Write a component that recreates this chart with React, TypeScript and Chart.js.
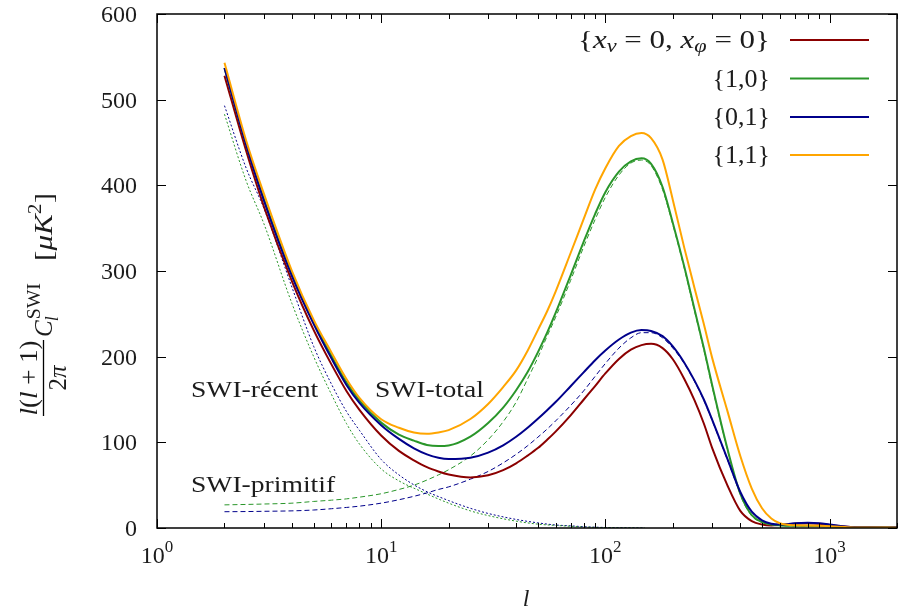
import React, { useEffect, useRef } from 'react';
import { Chart, registerables } from 'chart.js';
Chart.register(...registerables);

// multipole values
const ELL = [2, 2.5, 3, 4, 5, 6, 7, 8, 10, 12, 14, 16, 18, 20, 25, 30, 35, 40, 45, 50, 55, 60, 70, 80, 90, 100, 115, 130, 145, 160, 180, 200, 225, 250, 275, 300, 350, 400, 450, 500, 550, 600, 700, 800, 900, 1000, 1200, 1500, 2000];
// SWI-total
const TOT_00 = [528, 440, 375, 288, 231, 191, 160, 138, 108, 90, 79, 71, 66, 62.5, 59, 61.5, 67.5, 75.5, 84.5, 93.3, 103, 112.5, 131.5, 149.7, 165.7, 180.4, 197.4, 208.2, 213.5, 215, 210, 197, 174, 149, 122, 93, 50, 20, 8, 4, 3, 3.5, 5, 5.5, 5, 3.5, 1.5, 0.8, 0.5];
const TOT_10 = [537, 448, 384, 296, 240, 201, 170, 149, 123, 109, 102, 97, 95.7, 96.3, 106.6, 122.5, 140.5, 160.8, 182, 205, 228, 251, 295, 334, 366.5, 392, 416, 428, 431.5, 425, 398, 356, 305, 255, 210, 166, 93, 40, 15, 7, 4, 3, 2.5, 2.5, 2.4, 2, 1, 0.6, 0.4];
const TOT_01 = [537, 447, 382, 294, 238, 198, 167, 146, 120, 104, 93, 86, 82, 80.5, 82, 88, 96.5, 106.5, 117, 127.5, 137.5, 147, 165.5, 181.7, 195.9, 207.2, 220, 228, 231, 230, 224, 212, 193, 172, 150, 126, 81, 42, 19, 9, 5, 4, 5.5, 6, 5.5, 4, 1.5, 0.8, 0.5];
const TOT_11 = [543, 452, 390, 300, 243, 205, 174, 152, 127, 117, 111.5, 110, 111.5, 114.2, 127.2, 144.8, 164.5, 184, 207, 231, 253, 276, 321, 360.5, 395, 420, 446, 457.5, 461, 455, 430, 383, 327, 280, 238, 198, 137, 84, 46, 23, 11, 5.5, 3.2, 3, 2.6, 2, 1, 0.6, 0.4];
// SWI-primitif (dashed)
const PRIM_10 = [27, 27.5, 28, 29, 31, 32.5, 34, 36, 40, 45, 50, 56, 62, 68, 84, 103, 124, 147, 174, 199, 224, 246, 289, 328, 360, 386, 412, 426, 429.5, 423, 395, 354, 303, 253, 208, 164, 92, 39, 14, 6.5, 3.8, 2.8, 2.4, 2.4, 2.3, 1.9, 0.9, 0.5, 0.3];
const PRIM_01 = [19, 19.2, 19.5, 20, 21, 22.5, 24, 25.5, 29, 33, 37, 41, 45, 48, 57, 66, 76, 86, 96, 106, 115.5, 125, 143, 160, 177, 192, 210, 222, 228, 228, 222, 210, 192, 171, 149, 125, 80, 41, 18.5, 8.5, 4.6, 3.6, 5.3, 5.8, 5.3, 3.8, 1.4, 0.7, 0.4];
// SWI-récent (dotted)
const ELL_REC = [2, 2.5, 3, 4, 5, 6, 7, 8, 10, 12, 15, 20, 25, 30, 40, 50, 60, 70, 80, 100, 150];
const REC_10 = [483, 405, 355, 262, 200, 156, 122, 98, 69, 55, 43, 29, 20, 14.5, 8, 4.5, 3, 2, 1.2, 0.5, 0];
const REC_01 = [493, 420, 373, 281, 212, 168, 136, 114, 80, 62, 46, 32, 23, 17, 10, 6, 3.5, 2.5, 1.5, 0.6, 0];

const Y_TICKS = [0, 100, 200, 300, 400, 500, 600];
const X_DECADES = [0, 1, 2, 3];
const LEGEND = ['{x_ν = 0, x_φ = 0}', '{1,0}', '{0,1}', '{1,1}'];

const RED = '#8b0000';
const GREEN = '#2a962a';
const BLUE = '#00008b';
const ORANGE = '#ffa500';
const TXT = '#1c1c1c';

const RM = (s: number) => `${s}px "Liberation Serif"`;
const IT = (s: number) => `italic ${s}px "Liberation Serif"`;

type Seg = { t: string; f: string; dy?: number };

function segWidth(ctx: CanvasRenderingContext2D, segs: Seg[]) {
  let w = 0;
  for (const s of segs) { ctx.font = s.f; w += ctx.measureText(s.t).width; }
  return w;
}
function drawSegs(ctx: CanvasRenderingContext2D, segs: Seg[], x: number, y: number, align: 'left' | 'right' | 'center', sx = 1) {
  const w = segWidth(ctx, segs) * sx;
  const x0 = align === 'left' ? x : align === 'right' ? x - w : x - w / 2;
  ctx.save();
  ctx.translate(x0, y);
  ctx.scale(sx, 1);
  ctx.textAlign = 'left';
  ctx.textBaseline = 'alphabetic';
  let px = 0;
  for (const s of segs) {
    ctx.font = s.f;
    ctx.fillText(s.t, px, s.dy || 0);
    px += ctx.measureText(s.t).width;
  }
  ctx.restore();
  return w;
}

const legendSegs = (i: number): Seg[] => {
  if (i === 0) {
    return [
      { t: '{', f: RM(25) }, { t: 'x', f: IT(25) }, { t: 'ν', f: IT(18), dy: 4 },
      { t: ' = 0, ', f: RM(25) }, { t: 'x', f: IT(25) }, { t: 'φ', f: IT(18), dy: 4 },
      { t: ' = 0}', f: RM(25) },
    ];
  }
  return [{ t: LEGEND[i], f: RM(25) }];
};

const decor = {
  id: 'decor',
  afterDraw(chart: any) {
    const ctx: CanvasRenderingContext2D = chart.ctx;
    const { left, right, top, bottom } = chart.chartArea;
    const xs = chart.scales.x;
    const ys = chart.scales.y;
    ctx.save();
    ctx.strokeStyle = '#000';
    ctx.lineWidth = 1;
    for (const k of X_DECADES) {
      for (let m = 1; m <= 9; m++) {
        const v = m * Math.pow(10, k);
        if (v > xs.max) break;
        const px = Math.round(xs.getPixelForValue(v)) + 0.5;
        const len = m === 1 ? 9 : 5;
        ctx.beginPath();
        ctx.moveTo(px, bottom); ctx.lineTo(px, bottom - len);
        ctx.moveTo(px, top); ctx.lineTo(px, top + len);
        ctx.stroke();
      }
    }
    for (const v of Y_TICKS) {
      const py = Math.round(ys.getPixelForValue(v)) + 0.5;
      ctx.beginPath();
      ctx.moveTo(left, py); ctx.lineTo(left + 9, py);
      ctx.moveTo(right, py); ctx.lineTo(right - 9, py);
      ctx.stroke();
    }
    ctx.lineWidth = 1.5;
    ctx.strokeRect(left, top, right - left, bottom - top);

    ctx.fillStyle = TXT;
    for (const v of Y_TICKS) {
      const py = ys.getPixelForValue(v);
      drawSegs(ctx, [{ t: String(v), f: RM(24) }], left - 20, py + 8, 'right');
    }
    for (const k of X_DECADES) {
      const px = xs.getPixelForValue(Math.pow(10, k));
      drawSegs(ctx, [{ t: '10', f: RM(24) }, { t: String(k), f: RM(17), dy: -11 }], px, bottom + 35, 'center');
    }
    drawSegs(ctx, [{ t: 'l', f: IT(24) }], (left + right) / 2 - 1, 606, 'center');

    // y title (rotated): rx = -imageY, ry = imageX
    ctx.save();
    ctx.rotate(-Math.PI / 2);
    drawSegs(ctx, [{ t: 'l', f: IT(25) }, { t: '(', f: RM(25) }, { t: 'l', f: IT(25) }, { t: ' + 1)', f: RM(25) }], -378, 37, 'center', 1.08);
    ctx.strokeStyle = '#000';
    ctx.lineWidth = 1.3;
    ctx.beginPath(); ctx.moveTo(-416, 43.5); ctx.lineTo(-340, 43.5); ctx.stroke();
    drawSegs(ctx, [{ t: '2', f: RM(25) }, { t: 'π', f: IT(25) }], -378, 66, 'center');
    ctx.font = IT(25);
    const cw = ctx.measureText('C').width;
    drawSegs(ctx, [{ t: 'C', f: IT(25) }], -337, 52, 'left');
    drawSegs(ctx, [{ t: 'l', f: IT(18) }], -337 + cw - 1, 58, 'left');
    drawSegs(ctx, [{ t: 'SWI', f: RM(18) }], -337 + cw + 1, 40, 'left', 1.1);
    const br: Seg[] = [{ t: '[', f: RM(26) }, { t: 'μK', f: IT(26) }, { t: '2', f: RM(18), dy: -11 }, { t: ']', f: RM(26) }];
    drawSegs(ctx, br, -261, 52, 'left', 1.2);
    ctx.restore();

    // legend
    const rows = [48, 86.5, 125, 163];
    const cols = [RED, GREEN, BLUE, ORANGE];
    rows.forEach((by, i) => {
      ctx.fillStyle = TXT;
      const segs = legendSegs(i);
      const sx = i === 0 ? 192 / segWidth(ctx, segs) : 1.04;
      drawSegs(ctx, segs, 770, by, 'right', sx);
      ctx.strokeStyle = cols[i];
      ctx.lineWidth = 2;
      ctx.beginPath(); ctx.moveTo(790, by - 8); ctx.lineTo(869, by - 8); ctx.stroke();
    });

    ctx.fillStyle = TXT;
    drawSegs(ctx, [{ t: 'SWI-récent', f: RM(24) }], 191, 397, 'left', 1.15);
    drawSegs(ctx, [{ t: 'SWI-total', f: RM(24) }], 375, 397, 'left', 1.15);
    drawSegs(ctx, [{ t: 'SWI-primitif', f: RM(24) }], 191, 492, 'left', 1.15);
    ctx.restore();
  },
};

export default function App() {
  const ref = useRef<HTMLCanvasElement>(null);
  useEffect(() => {
    const ctx = ref.current!.getContext('2d')!;
    const mk = (xs: number[], ys: number[]) => xs.map((x, i) => ({ x, y: ys[i] }));
    const solid = (d: number[], c: string, order: number) => ({
      data: mk(ELL, d), borderColor: c, borderWidth: 2, pointRadius: 0, fill: false,
      cubicInterpolationMode: 'monotone', order,
    });
    const thin = (xs: number[], d: number[], c: string, dash: number[]) => ({
      data: mk(xs, d), borderColor: c, borderWidth: 1, pointRadius: 0, fill: false,
      borderDash: dash, cubicInterpolationMode: 'monotone', order: 10,
    });
    const chart = new Chart(ctx, {
      type: 'line',
      data: {
        datasets: [
          solid(TOT_11, ORANGE, 1),
          solid(TOT_01, BLUE, 2),
          solid(TOT_10, GREEN, 3),
          solid(TOT_00, RED, 4),
          thin(ELL, PRIM_10, GREEN, [5, 3]),
          thin(ELL, PRIM_01, BLUE, [5, 3]),
          thin(ELL_REC, REC_10, GREEN, [2, 2]),
          thin(ELL_REC, REC_01, BLUE, [2, 2]),
        ] as any,
      },
      options: {
        animation: false,
        responsive: false,
        maintainAspectRatio: false,
        layout: { padding: { left: 157, top: 14, right: 1, bottom: 87 } },
        scales: {
          x: { type: 'logarithmic', min: 1, max: 2000, display: false },
          y: { type: 'linear', min: 0, max: 600, display: false },
        },
        plugins: { legend: { display: false }, tooltip: { enabled: false } },
        elements: { point: { radius: 0 } },
      },
      plugins: [decor],
    });
    return () => chart.destroy();
  }, []);
  return (
    <div style={{ position: 'fixed', left: 0, top: 0, width: 898, height: 615, background: '#fff' }}>
      <canvas ref={ref} width={898} height={615} style={{ display: 'block' }} />
    </div>
  );
}
